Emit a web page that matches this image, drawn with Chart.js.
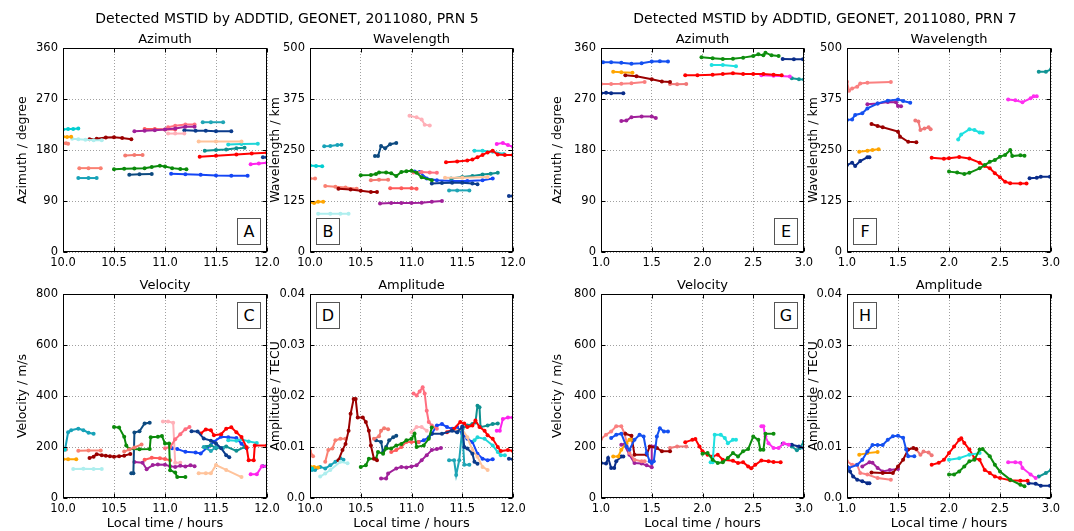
<!DOCTYPE html>
<html>
<head>
<meta charset="utf-8">
<script src="https://cdn.jsdelivr.net/npm/chart.js@4"></script>
<style>
  html, body { margin: 0; padding: 0; background: #fff; }
  #page { position: relative; width: 1074px; height: 531px; overflow: hidden; font-family: "DejaVu Sans", sans-serif; color: #000; }
  canvas { position: absolute; left: 0; top: 0; }
  .lbl { position: absolute; white-space: nowrap; transform: translate(-50%, -50%); }
  .sup { font-size: 14px; }
  .sub { font-size: 13px; }
  .letter { position: absolute; width: 22px; height: 25px; border: 1px solid #555; background: #fff;
            font-size: 16px; line-height: 25px; text-align: center; }
</style>
</head>
<body>
<div id="page"></div>
<script>
// ========== DATA: PRN 5 (local time 10-12 h) ==========
// one entry per detected MSTID, same order in every panel: [time, value] pairs

const xTicks5 = [10.0, 10.5, 11.0, 11.5, 12.0];
const xLabels5 = ['10.0', '10.5', '11.0', '11.5', '12.0'];
const xTicks7 = [1.0, 1.5, 2.0, 2.5, 3.0];
const xLabels7 = ['1.0', '1.5', '2.0', '2.5', '3.0'];
const azTicks = [0, 90, 180, 270, 360];
const azLabels = ['0', '90', '180', '270', '360'];
const wlTicks = [0, 125, 250, 375, 500];
const wlLabels = ['0', '125', '250', '375', '500'];
const velTicks = [0, 200, 400, 600, 800];
const velLabels = ['0', '200', '400', '600', '800'];
const ampTicks = [0, 0.01, 0.02, 0.03, 0.04];
const ampLabels = ['0.0', '0.01', '0.02', '0.03', '0.04'];

const azimuth5 = [
  [[10.0,216],[10.05,217],[10.1,217],[10.15,218]],
  [[10.0,203.5],[10.04,203],[10.08,203.5]],
  [[10.0,192],[10.03,192],[10.05,191]],
  [[10.09,200],[10.15,199],[10.22,198],[10.3,197],[10.38,197]],
  [[10.26,199],[10.33,200],[10.42,202],[10.5,202.5],[10.58,201],[10.67,199]],
  [[10.16,148],[10.25,148],[10.37,148]],
  [[10.15,130.5],[10.25,130.5],[10.33,130.5]],
  [[10.61,170.5],[10.7,171],[10.78,171]],
  [[10.5,146],[10.6,147],[10.7,147.5],[10.8,148],[10.87,150],[10.95,152],[11.0,151],[11.07,148],[11.15,146.5],[11.21,146]],
  [[10.65,136.5],[10.75,137],[10.87,137.5]],
  [[10.7,213],[10.8,214],[10.9,215],[11.0,216],[11.1,218],[11.2,221],[11.29,221]],
  [[10.8,217],[10.9,217],[11.0,216],[11.1,216]],
  [[11.03,220],[11.1,223],[11.2,225],[11.29,225]],
  [[11.03,209],[11.1,209],[11.19,209]],
  [[11.19,215],[11.3,214],[11.4,214],[11.5,213],[11.65,213]],
  [[11.37,229],[11.45,229],[11.57,229]],
  [[11.33,195],[11.5,195],[11.75,195]],
  [[11.34,168],[11.5,170],[11.7,172],[11.85,174],[12.0,175]],
  [[11.39,178.5],[11.5,180],[11.6,181],[11.7,183],[11.78,184]],
  [[11.62,189.5],[11.75,190.5],[11.91,191]],
  [[11.06,138],[11.2,137],[11.35,136.5],[11.5,135],[11.65,134.5],[11.81,134.5]],
  [[11.84,155],[11.92,156],[12.0,157.6]],
  [[11.96,167],[12.0,167]]
];

const wavelength5 = [
  [[10.0,212],[10.06,211],[10.12,210]],
  [[10.0,122],[10.04,120],[10.08,123],[10.13,123]],
  [[10.0,180],[10.05,180]],
  [[10.08,94],[10.2,94],[10.3,93.5],[10.38,94]],
  [[10.28,155],[10.4,153],[10.5,150],[10.6,147],[10.66,147]],
  [[10.15,162],[10.25,160],[10.35,158],[10.46,155]],
  [[10.14,259],[10.2,260],[10.27,262],[10.31,263]],
  [[10.6,176],[10.68,177],[10.77,177]],
  [[10.5,188],[10.6,189],[10.65,191],[10.68,195],[10.75,195],[10.8,193],[10.85,186],[10.9,196],[10.95,198],[11.0,199],[11.05,194],[11.1,183],[11.2,176]],
  [[10.64,235],[10.67,235],[10.7,260],[10.74,254],[10.79,264],[10.85,267]],
  [[10.69,119],[10.8,120],[10.9,120],[11.0,120],[11.1,121],[11.2,123],[11.3,125]],
  [[10.79,156],[10.9,156],[11.0,156],[11.05,155]],
  [[11.02,195],[11.1,196],[11.18,195],[11.25,194]],
  [[10.98,334],[11.05,330],[11.1,325],[11.13,312],[11.18,310]],
  [[11.2,168],[11.3,169],[11.4,170],[11.5,170],[11.6,168],[11.65,166]],
  [[11.37,151],[11.45,151],[11.57,151]],
  [[11.33,182],[11.5,182],[11.75,184]],
  [[11.34,220],[11.45,222],[11.55,224],[11.6,227],[11.65,232],[11.7,238],[11.75,244],[11.8,248],[11.85,239],[11.92,238],[12.0,238]],
  [[11.39,180],[11.5,184],[11.6,186],[11.7,190],[11.78,192],[11.85,194]],
  [[11.62,248],[11.7,248],[11.8,246],[11.91,240]],
  [[11.03,197],[11.08,196],[11.15,180],[11.25,176],[11.4,174],[11.55,174],[11.7,176],[11.8,180]],
  [[11.84,265],[11.9,267],[11.95,262],[12.0,258]],
  [[11.96,137],[12.0,137]]
];

const velocity5 = [
  [[10.0,188],[10.02,190]],
  [[10.0,152],[10.05,152],[10.13,152]],
  [[10.0,188],[10.03,190]],
  [[10.1,114],[10.2,115],[10.3,114],[10.38,114]],
  [[10.26,157],[10.3,162],[10.33,172],[10.38,168],[10.42,166],[10.46,164],[10.5,162],[10.55,164],[10.6,166],[10.66,173]],
  [[10.15,185],[10.25,186],[10.37,186]],
  [[10.02,190],[10.05,258],[10.08,266],[10.15,272],[10.2,266],[10.25,256],[10.3,252]],
  [[10.6,182],[10.65,190],[10.7,198],[10.77,210]],
  [[10.5,278],[10.55,276],[10.6,240],[10.62,206],[10.65,192],[10.75,191],[10.85,192],[10.86,238],[10.93,240],[10.97,243],[11.0,214],[11.04,214],[11.05,109],[11.1,100],[11.12,82],[11.2,82]],
  [[10.67,97],[10.69,97],[10.7,257],[10.75,262],[10.8,292],[10.85,295]],
  [[10.7,141],[10.78,138],[10.82,113],[10.88,129],[10.93,131],[11.0,130],[11.05,125],[11.1,122],[11.15,126],[11.2,124],[11.25,128],[11.29,125]],
  [[10.8,150],[10.87,158],[10.95,156],[11.0,153],[11.05,148]],
  [[11.0,195],[11.05,200],[11.1,230],[11.15,250],[11.2,270],[11.24,278]],
  [[10.98,300],[11.03,300],[11.08,295],[11.1,138],[11.15,138]],
  [[11.26,262],[11.32,261],[11.38,233],[11.45,225],[11.5,214],[11.55,195],[11.6,168],[11.63,160]],
  [[11.38,200],[11.45,184],[11.5,200],[11.57,196]],
  [[11.33,97],[11.4,97],[11.45,97],[11.5,129],[11.6,110],[11.75,82]],
  [[11.35,253],[11.4,269],[11.45,266],[11.48,246],[11.55,250],[11.6,272],[11.65,277],[11.7,258],[11.75,239],[11.8,199],[11.82,148],[11.87,148],[11.88,206],[12.0,206]],
  [[11.4,200],[11.45,207],[11.5,195],[11.6,202],[11.7,185],[11.78,200]],
  [[11.62,226],[11.7,225],[11.75,230],[11.82,222],[11.9,216]],
  [[11.07,195],[11.12,192],[11.2,181],[11.3,178],[11.35,175],[11.42,200],[11.48,221],[11.55,240],[11.62,238],[11.7,235],[11.75,213],[11.8,195]],
  [[11.84,93],[11.9,93],[11.95,125],[12.0,125]],
  [[11.96,125],[12.0,125]]
];

const amplitude5 = [
  [[10.0,0.0058],[10.02,0.0058]],
  [[10.0,0.0062],[10.04,0.0061],[10.08,0.006]],
  [[10.0,0.0092],[10.03,0.0082]],
  [[10.1,0.0042],[10.15,0.0048],[10.2,0.0055],[10.3,0.0071],[10.37,0.0068]],
  [[10.28,0.0074],[10.32,0.0094],[10.35,0.0106],[10.38,0.0132],[10.4,0.0165],[10.43,0.0194],[10.45,0.0194],[10.47,0.0158],[10.52,0.0158],[10.55,0.0149],[10.58,0.0132],[10.6,0.0103],[10.63,0.0077],[10.66,0.0074]],
  [[10.15,0.0071],[10.18,0.0094],[10.22,0.0097],[10.25,0.0113],[10.3,0.0116],[10.35,0.0116]],
  [[10.02,0.0055],[10.05,0.0055],[10.1,0.0061],[10.15,0.0058],[10.2,0.0064],[10.25,0.0071],[10.3,0.0078],[10.33,0.0075]],
  [[10.63,0.0116],[10.68,0.0121],[10.7,0.0132],[10.73,0.0137],[10.77,0.0135]],
  [[10.5,0.0061],[10.55,0.0064],[10.58,0.0077],[10.65,0.0077],[10.67,0.009],[10.72,0.0087],[10.75,0.0097],[10.8,0.0097],[10.85,0.0103],[10.9,0.0106],[10.95,0.0113],[11.0,0.0116],[11.03,0.0126],[11.05,0.01],[11.12,0.0103],[11.17,0.0116],[11.2,0.0138]],
  [[10.65,0.0113],[10.7,0.011],[10.72,0.009],[10.75,0.01],[10.78,0.0113],[10.82,0.0119],[10.85,0.0122]],
  [[10.7,0.0038],[10.75,0.0038],[10.77,0.0048],[10.85,0.0058],[10.9,0.0061],[10.95,0.006],[11.0,0.0062],[11.05,0.0064],[11.1,0.0074],[11.15,0.0084],[11.2,0.0094],[11.25,0.0096],[11.29,0.0098]],
  [[10.8,0.009],[10.85,0.0094],[10.9,0.01],[10.95,0.011],[11.0,0.011],[11.07,0.011]],
  [[11.02,0.0205],[11.05,0.0201],[11.08,0.0209],[11.11,0.0217],[11.13,0.0205],[11.15,0.0171],[11.17,0.0149],[11.2,0.0142],[11.25,0.0136]],
  [[11.0,0.0129],[11.05,0.0139],[11.1,0.0139],[11.15,0.0132]],
  [[11.2,0.0126],[11.3,0.0126],[11.4,0.0132],[11.45,0.0129],[11.5,0.014],[11.52,0.01],[11.55,0.0097],[11.6,0.0087],[11.62,0.0071],[11.65,0.0067]],
  [[11.37,0.0074],[11.42,0.0074],[11.44,0.0045],[11.47,0.0074],[11.5,0.0135],[11.52,0.0065],[11.57,0.0065]],
  [[11.45,0.0132],[11.5,0.0135],[11.55,0.0119],[11.6,0.0094],[11.65,0.0081],[11.7,0.0061],[11.75,0.0055]],
  [[11.35,0.0129],[11.42,0.0136],[11.48,0.0149],[11.52,0.0146],[11.55,0.0139],[11.6,0.0142],[11.63,0.0152],[11.67,0.0139],[11.72,0.0132],[11.75,0.0123],[11.8,0.0116],[11.85,0.01],[11.88,0.0092],[11.95,0.0094],[12.0,0.0092]],
  [[11.45,0.0129],[11.5,0.0136],[11.55,0.0142],[11.6,0.0145],[11.63,0.0148],[11.65,0.0181],[11.67,0.0178],[11.68,0.0139],[11.75,0.0142],[11.8,0.0145],[11.85,0.0146]],
  [[11.62,0.0113],[11.65,0.0119],[11.72,0.0116],[11.8,0.0103],[11.85,0.009],[11.88,0.0084],[11.92,0.0084]],
  [[11.07,0.011],[11.12,0.0113],[11.17,0.0119],[11.2,0.0126],[11.25,0.0142],[11.3,0.0145],[11.35,0.0139],[11.4,0.0136],[11.45,0.0139],[11.5,0.0126],[11.55,0.0116],[11.6,0.011],[11.65,0.0087],[11.7,0.0077],[11.75,0.0074],[11.8,0.0076]],
  [[11.84,0.0132],[11.87,0.0132],[11.9,0.0155],[11.95,0.0158],[12.0,0.0158]],
  [[11.96,0.0077],[12.0,0.0076]]
];

// ========== DATA: PRN 7 (local time 1-3 h) ==========

const azimuth7 = [
  [[1.02,334.7],[1.1,335],[1.2,334],[1.3,332],[1.4,333],[1.5,336],[1.58,336.5],[1.66,336]],
  [[1.12,318],[1.2,317],[1.31,316.5]],
  [[1.24,312],[1.35,310],[1.5,305],[1.6,301],[1.68,300]],
  [[1.0,296.5],[1.1,296.5],[1.2,297],[1.3,298],[1.43,300]],
  [[1.68,296.5],[1.75,296],[1.84,296.5]],
  [[1.0,280],[1.05,281],[1.1,280],[1.22,280]],
  [[1.2,231],[1.25,232],[1.3,238],[1.4,239],[1.5,239],[1.54,236.5]],
  [[1.99,343.5],[2.1,342],[2.2,340.6],[2.3,341],[2.4,343],[2.5,346],[2.55,349],[2.6,347],[2.62,351.8],[2.68,347],[2.75,346]],
  [[2.09,330],[2.2,330],[2.33,328]],
  [[1.83,312],[1.95,312],[2.1,313],[2.2,314],[2.3,315.5],[2.4,314],[2.5,314],[2.6,314],[2.7,313],[2.78,312]],
  [[2.58,312],[2.7,311],[2.86,309.5]],
  [[2.79,340.6],[2.9,340],[2.99,340]],
  [[2.88,306.5],[2.95,305],[3.0,304.5]]
];

const wavelength7 = [
  [[1.0,323.5],[1.05,325],[1.08,335.8],[1.15,340],[1.2,352],[1.3,364],[1.4,371],[1.5,374],[1.55,370],[1.62,366]],
  [[1.12,246],[1.2,248],[1.25,250],[1.31,252]],
  [[1.24,313.7],[1.3,309],[1.35,305.6],[1.5,295],[1.52,282.7],[1.6,270],[1.68,268.8]],
  [[1.0,417.5],[1.02,395.4],[1.05,401],[1.1,405],[1.13,413],[1.2,415],[1.43,416.7]],
  [[1.67,322],[1.7,320],[1.72,299],[1.76,303],[1.8,305.6],[1.82,300.6]],
  [[1.0,213],[1.05,219],[1.08,210.8],[1.13,223],[1.2,232],[1.22,232]],
  [[1.2,362],[1.3,364],[1.4,367.6],[1.48,367],[1.5,358],[1.53,357]],
  [[2.0,197],[2.08,195],[2.15,191],[2.2,194],[2.3,205],[2.35,213],[2.4,221],[2.45,225.5],[2.5,233.7],[2.55,237.7],[2.6,250],[2.62,235],[2.7,237],[2.74,236]],
  [[2.09,276],[2.12,288],[2.2,300.6],[2.25,299],[2.3,293],[2.33,292]],
  [[1.83,231],[1.95,228.8],[2.0,230],[2.1,232.8],[2.2,229],[2.3,219],[2.35,210.8],[2.4,205],[2.45,192.8],[2.5,183],[2.55,172],[2.6,168.3],[2.7,168],[2.76,168]],
  [[2.58,374],[2.65,372],[2.72,367],[2.8,376.6],[2.83,382],[2.86,382]],
  [[2.79,180.5],[2.86,182],[2.9,184.6],[2.99,184.6]],
  [[2.88,442],[2.95,442],[3.0,447.7]]
];

const velocity7 = [
  [[1.1,235],[1.15,248],[1.2,252],[1.25,202],[1.28,189],[1.33,228],[1.38,248],[1.42,241],[1.45,176],[1.48,144],[1.5,137],[1.52,144],[1.55,241],[1.58,274],[1.62,261],[1.66,261]],
  [[1.12,163],[1.17,163],[1.2,189],[1.25,215],[1.28,228],[1.3,228]],
  [[1.24,252],[1.3,244],[1.33,170],[1.45,170],[1.48,202],[1.55,196],[1.6,183],[1.68,183]],
  [[1.0,231],[1.05,248],[1.1,261],[1.15,281],[1.2,281],[1.23,255],[1.28,176],[1.33,150],[1.4,144],[1.43,144]],
  [[1.68,196],[1.75,202],[1.84,202]],
  [[1.0,137],[1.05,135],[1.07,157],[1.1,118],[1.13,118],[1.15,144],[1.2,163],[1.22,163]],
  [[1.2,209],[1.23,209],[1.28,170],[1.33,137],[1.4,135],[1.45,128],[1.5,121],[1.5,202],[1.53,202]],
  [[2.0,174],[2.05,176],[2.1,150],[2.15,137],[2.2,140],[2.25,157],[2.3,176],[2.35,163],[2.4,183],[2.45,192],[2.5,241],[2.55,228],[2.57,189],[2.6,189],[2.62,252],[2.7,252]],
  [[2.08,140],[2.1,140],[2.12,248],[2.18,248],[2.22,235],[2.25,215],[2.3,228],[2.33,228]],
  [[1.83,219],[1.9,228],[1.93,231],[1.97,202],[2.0,183],[2.05,170],[2.1,163],[2.15,170],[2.2,150],[2.3,146],[2.35,137],[2.4,140],[2.45,124],[2.48,117],[2.52,130],[2.58,147],[2.65,144],[2.7,141],[2.77,140]],
  [[2.58,281],[2.6,281],[2.62,241],[2.65,215],[2.7,196],[2.75,196],[2.8,215],[2.85,209]],
  [[2.79,213],[2.88,209],[2.95,202],[3.0,196]],
  [[2.88,202],[2.93,187],[2.96,196],[3.0,222]]
];

const amplitude7 = [
  [[1.02,0.0059],[1.1,0.0065],[1.15,0.0075],[1.2,0.0091],[1.25,0.0104],[1.3,0.0104],[1.35,0.0104],[1.4,0.0114],[1.45,0.0121],[1.5,0.0122],[1.55,0.0118],[1.58,0.0095],[1.6,0.0082],[1.66,0.0082]],
  [[1.12,0.0085],[1.2,0.0088],[1.3,0.009]],
  [[1.24,0.005],[1.35,0.0049],[1.45,0.0049],[1.5,0.0062],[1.55,0.0075],[1.6,0.0095],[1.65,0.0098],[1.68,0.0096]],
  [[1.0,0.0072],[1.05,0.0065],[1.1,0.0065],[1.13,0.0049],[1.2,0.0046],[1.3,0.0039],[1.43,0.0036]],
  [[1.68,0.0095],[1.72,0.0085],[1.75,0.0091],[1.8,0.0089],[1.83,0.0084]],
  [[1.0,0.0062],[1.03,0.0052],[1.06,0.0042],[1.1,0.0036],[1.15,0.0033],[1.2,0.0029],[1.22,0.0029]],
  [[1.15,0.0062],[1.22,0.007],[1.25,0.0069],[1.3,0.0059],[1.35,0.0052],[1.42,0.0055],[1.5,0.0057]],
  [[2.0,0.0046],[2.05,0.0046],[2.1,0.0052],[2.15,0.0062],[2.2,0.0072],[2.25,0.0075],[2.3,0.0095],[2.33,0.0096],[2.4,0.0082],[2.45,0.0065],[2.5,0.0052],[2.6,0.0036],[2.7,0.0026],[2.74,0.0023]],
  [[2.0,0.0075],[2.1,0.0078],[2.2,0.0085],[2.3,0.0088]],
  [[1.83,0.0065],[1.9,0.0069],[1.95,0.0075],[2.0,0.0088],[2.05,0.0101],[2.1,0.0114],[2.12,0.0117],[2.15,0.0108],[2.2,0.0095],[2.25,0.0078],[2.3,0.0075],[2.35,0.0055],[2.4,0.0049],[2.45,0.0042],[2.5,0.0039],[2.6,0.0035],[2.7,0.0034],[2.77,0.0034]],
  [[2.58,0.007],[2.65,0.007],[2.7,0.0069],[2.72,0.0059],[2.8,0.0046],[2.85,0.0039]],
  [[2.78,0.0029],[2.85,0.0028],[2.9,0.0024],[2.99,0.0024]],
  [[2.88,0.0042],[2.95,0.0049],[3.0,0.0055]]
];

// ========== STYLES ==========

const colors5 = ['#00ced1', '#ffa500', '#fa8072', '#aeeeee', '#9a0000', '#fa8072', '#17a2b8', '#f47a70',
  '#0a8a0a', '#0d4a80', '#a0209a', '#ff5a5a', '#ff6f80', '#ffb0b8', '#0b3c8c', '#1fa5b5', '#ffc39b',
  '#ff0000', '#0e9090', '#1fd5d8', '#1446f5', '#ff22ee', '#123b90'];
const colors7 = ['#1450f0', '#ffa500', '#9a0000', '#fa8080', '#f07878', '#0a2d8a', '#a0209a',
  '#0e8e0e', '#1ee0e0', '#ff0000', '#ff2ef0', '#0a2d8a', '#119595'];

const W = 1074, H = 531;
const COLS = [{ l: 63, r: 267, tx: 22 }, { l: 310, r: 513, tx: 275 }, { l: 601, r: 804, tx: 557 }, { l: 847, r: 1051, tx: 813 }];
const ROWS = [{ t: 48, b: 252 }, { t: 294, b: 498 }];

Chart.defaults.font.family = '"DejaVu Sans", sans-serif';
Chart.defaults.color = '#000';

// black box round the plot, with matplotlib-style inward ticks
const framePlugin = {
  id: 'frame',
  afterDatasetsDraw(chart) {
    const { ctx, chartArea: a, scales } = chart;
    const L = Math.round(a.left) + 0.5, R = Math.round(a.right) - 0.5;
    const T = Math.round(a.top) + 0.5, B = Math.round(a.bottom) - 0.5;
    ctx.save();
    ctx.strokeStyle = '#000';
    ctx.lineWidth = 1;
    ctx.beginPath();
    scales.x.ticks.forEach(t => {
      const px = Math.round(scales.x.getPixelForValue(t.value)) + 0.5;
      ctx.moveTo(px, B); ctx.lineTo(px, B - 4);
      ctx.moveTo(px, T); ctx.lineTo(px, T + 4);
    });
    scales.y.ticks.forEach(t => {
      const py = Math.round(scales.y.getPixelForValue(t.value)) + 0.5;
      ctx.moveTo(L, py); ctx.lineTo(L + 4, py);
      ctx.moveTo(R, py); ctx.lineTo(R - 4, py);
    });
    ctx.stroke();
    ctx.strokeRect(L, T, R - L, B - T);
    ctx.restore();
  }
};

const page = document.getElementById('page');

function addText(cls, text, x, y) {
  const d = document.createElement('div');
  d.className = 'lbl ' + cls;
  d.textContent = text;
  d.style.left = x + 'px';
  d.style.top = y + 'px';
  page.appendChild(d);
}

function addLetter(ch, col, row, corner) {
  const d = document.createElement('div');
  d.className = 'letter';
  d.textContent = ch;
  const left = corner[1] === 'r' ? col.r - 6 - 24 : col.l + 6;
  const top = corner[0] === 'b' ? row.b - 7 - 27 : row.t + 8;
  d.style.left = left + 'px';
  d.style.top = top + 'px';
  page.appendChild(d);
}

function makePanel(col, row, title, xT, xL, yT, yL, yTitle, xTitle, series, colors) {
  const cv = document.createElement('canvas');
  cv.width = W; cv.height = H;
  page.appendChild(cv);

  const yw = col.l - Math.round(col.tx - 7);
  const xh = xTitle ? 33 : 20;

  new Chart(cv, {
    type: 'scatter',
    data: {
      datasets: series.map((pts, i) => ({
        data: pts.map(p => ({ x: p[0], y: p[1] })),
        showLine: true,
        borderColor: colors[i],
        backgroundColor: colors[i],
        borderWidth: 2,
        pointRadius: 2,
        pointBorderWidth: 0
      }))
    },
    options: {
      responsive: false,
      animation: false,
      events: [],
      layout: {
        autoPadding: false,
        padding: { left: col.l - yw, right: W - col.r, top: row.t, bottom: H - row.b - xh }
      },
      plugins: { legend: { display: false }, tooltip: { enabled: false } },
      scales: {
        x: {
          type: 'linear',
          min: xT[0], max: xT[xT.length - 1],
          afterBuildTicks: s => { s.ticks = xT.map(v => ({ value: v })); },
          afterFit: s => { s.height = xh; },
          ticks: { callback: (v, i) => xL[i], padding: 4, maxRotation: 0, autoSkip: false, font: { size: 11.5 } },
          grid: { color: '#a0a0a0', lineWidth: 1, drawTicks: false },
          border: { display: false, dash: [1, 2] },
          title: { display: !!xTitle, text: xTitle || '', padding: 0, font: { size: 13 } }
        },
        y: {
          type: 'linear',
          min: yT[0], max: yT[yT.length - 1],
          afterBuildTicks: s => { s.ticks = yT.map(v => ({ value: v })); },
          afterFit: s => { s.width = yw; },
          ticks: { callback: (v, i) => yL[i], padding: 5, autoSkip: false, font: { size: 11.5 } },
          grid: { color: '#a0a0a0', lineWidth: 1, drawTicks: false },
          border: { display: false, dash: [1, 2] },
          title: { display: true, text: yTitle, padding: 0, font: { size: 12.5 } }
        }
      }
    },
    plugins: [framePlugin]
  });

  addText('sub', title, (col.l + col.r) / 2, row.t - 10);
}

// ========== PANELS ==========

makePanel(COLS[0], ROWS[0], 'Azimuth', xTicks5, xLabels5, azTicks, azLabels, 'Azimuth / degree', null, azimuth5, colors5);
makePanel(COLS[1], ROWS[0], 'Wavelength', xTicks5, xLabels5, wlTicks, wlLabels, 'Wavelength / km', null, wavelength5, colors5);
makePanel(COLS[0], ROWS[1], 'Velocity', xTicks5, xLabels5, velTicks, velLabels, 'Velocity / m/s', 'Local time / hours', velocity5, colors5);
makePanel(COLS[1], ROWS[1], 'Amplitude', xTicks5, xLabels5, ampTicks, ampLabels, 'Amplitude / TECU', 'Local time / hours', amplitude5, colors5);

makePanel(COLS[2], ROWS[0], 'Azimuth', xTicks7, xLabels7, azTicks, azLabels, 'Azimuth / degree', null, azimuth7, colors7);
makePanel(COLS[3], ROWS[0], 'Wavelength', xTicks7, xLabels7, wlTicks, wlLabels, 'Wavelength / km', null, wavelength7, colors7);
makePanel(COLS[2], ROWS[1], 'Velocity', xTicks7, xLabels7, velTicks, velLabels, 'Velocity / m/s', 'Local time / hours', velocity7, colors7);
makePanel(COLS[3], ROWS[1], 'Amplitude', xTicks7, xLabels7, ampTicks, ampLabels, 'Amplitude / TECU', 'Local time / hours', amplitude7, colors7);

addText('sup', 'Detected MSTID by ADDTID, GEONET, 2011080, PRN 5', 287, 18);
addText('sup', 'Detected MSTID by ADDTID, GEONET, 2011080, PRN 7', 825, 18);

addLetter('A', COLS[0], ROWS[0], 'br');
addLetter('B', COLS[1], ROWS[0], 'bl');
addLetter('C', COLS[0], ROWS[1], 'tr');
addLetter('D', COLS[1], ROWS[1], 'tl');
addLetter('E', COLS[2], ROWS[0], 'br');
addLetter('F', COLS[3], ROWS[0], 'bl');
addLetter('G', COLS[2], ROWS[1], 'tr');
addLetter('H', COLS[3], ROWS[1], 'tl');
</script>
</body>
</html>
